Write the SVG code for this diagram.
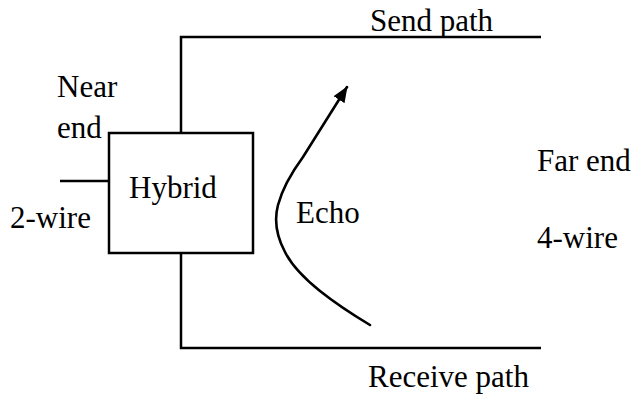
<svg xmlns="http://www.w3.org/2000/svg" width="631" height="401" viewBox="0 0 631 401">
  <style>
    .lbl { font-family: "Liberation Serif", "Times New Roman", serif; font-size: 31px; fill: #000; }
    .wire { fill: none; stroke: #000; stroke-width: 2.5; }
  </style>
  <defs>
    <marker id="arrow" markerWidth="16" markerHeight="14" refX="15" refY="6.5" orient="auto" markerUnits="userSpaceOnUse" viewBox="0 0 16 13">
      <path d="M0,0 L16,6.5 L0,13 z" fill="#000"/>
    </marker>
  </defs>
  <rect width="631" height="401" fill="#fff"/>

  <g id="connectors">
    <!-- send path: hybrid up and across to the far end -->
    <polyline class="wire" points="181,133 181,37 541,37"/>
    <!-- receive path: hybrid down and across -->
    <polyline class="wire" points="181,253 181,348 541,348"/>
    <!-- 2-wire side -->
    <line class="wire" x1="60" y1="181" x2="109" y2="181"/>
    <!-- echo returning from the receive path into the send path -->
    <path id="echo-curve" fill="none" stroke="#000" stroke-width="2.6" stroke-linecap="round"
          d="M370,325 C355,316 335,303 320,291 C305,279 292,266 285,252 C277,237 274,220 278,205 C282,190 292,172 303,157 L347,87"
          marker-end="url(#arrow)"/>
  </g>

  <g id="hybrid">
    <rect class="wire" x="109" y="133" width="144" height="120"/>
    <text class="lbl" x="129" y="198">Hybrid</text>
  </g>

  <g id="labels">
    <text class="lbl" x="370" y="31">Send path</text>
    <text class="lbl" x="57" y="97">Near</text>
    <text class="lbl" x="57" y="138">end</text>
    <text class="lbl" x="10" y="228">2-wire</text>
    <text class="lbl" x="296" y="223">Echo</text>
    <text class="lbl" x="537" y="171">Far end</text>
    <text class="lbl" x="537" y="248">4-wire</text>
    <text class="lbl" x="368" y="387">Receive path</text>
  </g>
</svg>
